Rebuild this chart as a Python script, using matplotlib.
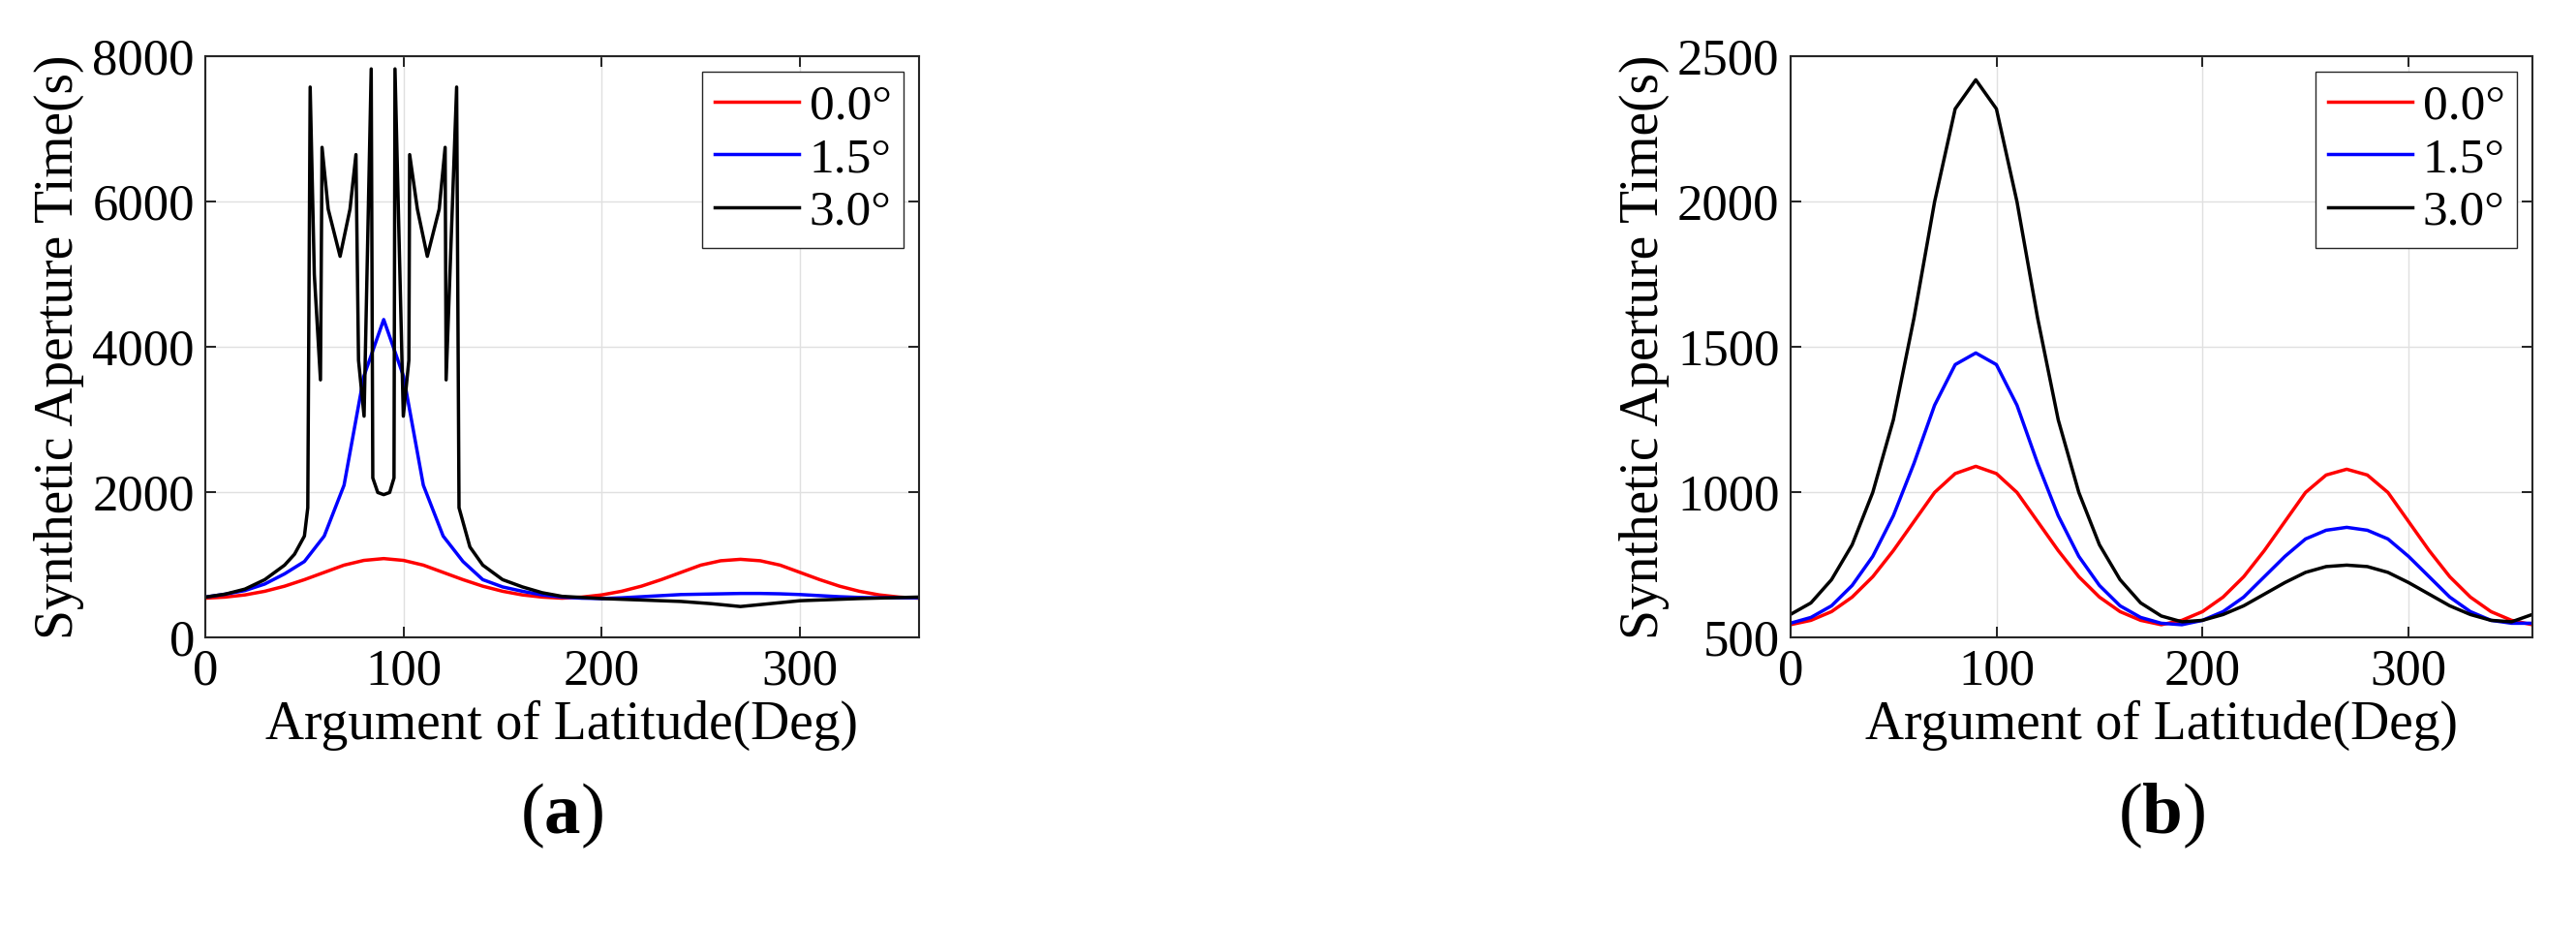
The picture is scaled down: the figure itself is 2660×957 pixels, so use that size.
import matplotlib.pyplot as plt

plt.rcParams['font.family'] = ['Liberation Serif', 'DejaVu Serif']
plt.rcParams['mathtext.fontset'] = 'custom'
plt.rcParams['mathtext.bf'] = 'Liberation Serif:bold'
plt.rcParams['mathtext.rm'] = 'Liberation Serif'

deg = list(range(0, 361, 10))
labels = ['0.0°', '1.5°', '3.0°']

red = [545, 560, 590, 640, 710, 800, 900, 1000, 1065, 1090, 1065, 1000, 900, 800, 710, 640, 590, 560, 545,
       560, 590, 640, 710, 800, 900, 1000, 1060, 1080, 1060, 1000, 900, 800, 710, 640, 590, 560, 545]

# panel (a)
blue_a = [560, 600, 650, 740, 880, 1050, 1400, 2100, 3600, 4380, 3600, 2100, 1400, 1050, 800, 700, 640, 590, 560,
          545, 540, 550, 565, 580, 595, 600, 605, 610, 610, 605, 595, 580, 565, 555, 550, 550, 550]
black_a_x = [0, 10, 20, 30, 40, 45, 50, 51.7, 52.9, 55, 58.1, 58.9, 62, 68, 73, 76, 77.3, 80.1, 83.7, 84.5,
             87, 90, 93, 95.2, 95.7, 99.9, 102.7, 103.1, 107, 112, 118, 121, 121.5, 126.8, 128,
             133.5, 140, 150, 160, 170, 180, 200, 220, 240, 255, 270, 285, 300, 330, 360]
black_a_y = [560, 600, 670, 800, 1000, 1150, 1400, 1790, 7580, 5000, 3550, 6750, 5900, 5250, 5900, 6650, 3820, 3050, 7830, 2200,
             2000, 1970, 2000, 2200, 7830, 3050, 3820, 6650, 5900, 5250, 5900, 6750, 3550, 7580, 1790,
             1250, 1000, 800, 700, 620, 570, 540, 520, 500, 470, 430, 470, 510, 540, 560]

# panel (b)
blue_b = [550, 570, 610, 680, 780, 920, 1100, 1300, 1440, 1480, 1440, 1300, 1100, 920, 780, 680, 610, 570, 550,
          545, 560, 590, 640, 710, 780, 840, 870, 880, 870, 840, 780, 710, 640, 590, 560, 550, 550]
black_b = [580, 620, 700, 820, 1000, 1250, 1600, 2000, 2320, 2420, 2320, 2000, 1600, 1250, 1000, 820, 700, 620, 575,
           555, 560, 580, 610, 650, 690, 725, 745, 750, 745, 725, 690, 650, 610, 580, 560, 555, 580]

fig = plt.figure(figsize=(26.6, 9.57), dpi=100)
ax1 = fig.add_axes([0.0797, 0.312, 0.277, 0.627])
ax2 = fig.add_axes([0.695, 0.312, 0.288, 0.627])

ax1.plot(deg, red, color='red', lw=2.5, label=labels[0])
ax1.plot(deg, blue_a, color='blue', lw=2.5, label=labels[1])
ax1.plot(black_a_x, black_a_y, color='black', lw=2.5, label=labels[2])
ax1.set_ylim(0, 8000)
ax1.set_yticks(range(0, 8001, 2000))

ax2.plot(deg, red, color='red', lw=2.5, label=labels[0])
ax2.plot(deg, blue_b, color='blue', lw=2.5, label=labels[1])
ax2.plot(deg, black_b, color='black', lw=2.5, label=labels[2])
ax2.set_ylim(500, 2500)
ax2.set_yticks(range(500, 2501, 500))

for ax, tag in [(ax1, 'a'), (ax2, 'b')]:
    ax.set_xlim(0, 360)
    ax.set_xticks([0, 100, 200, 300])
    ax.grid(True, color='#e0e0e0', lw=1)
    ax.tick_params(direction='in', labelsize=38, length=8, width=1.2, top=True, right=True, pad=8)
    for s in ax.spines.values():
        s.set_linewidth(1.5)
        s.set_color('#262626')
    ax.set_xlabel('Argument of Latitude(Deg)', fontsize=40, labelpad=4)
    ax.set_ylabel('Synthetic Aperture Time(s)', fontsize=40, labelpad=6)
    ax.legend(loc='upper right', fontsize=37, fancybox=False, edgecolor='#262626',
              handlelength=1.7, handletextpad=0.2, borderpad=0.25, labelspacing=0.15,
              borderaxespad=0.3, framealpha=1)
    bb = ax.get_position()
    fig.text((bb.x0 + bb.x1) / 2, 0.12, r'($\mathbf{' + tag + r'}$)', fontsize=54, ha='center', va='center')

fig.savefig('out.png', dpi=100)
